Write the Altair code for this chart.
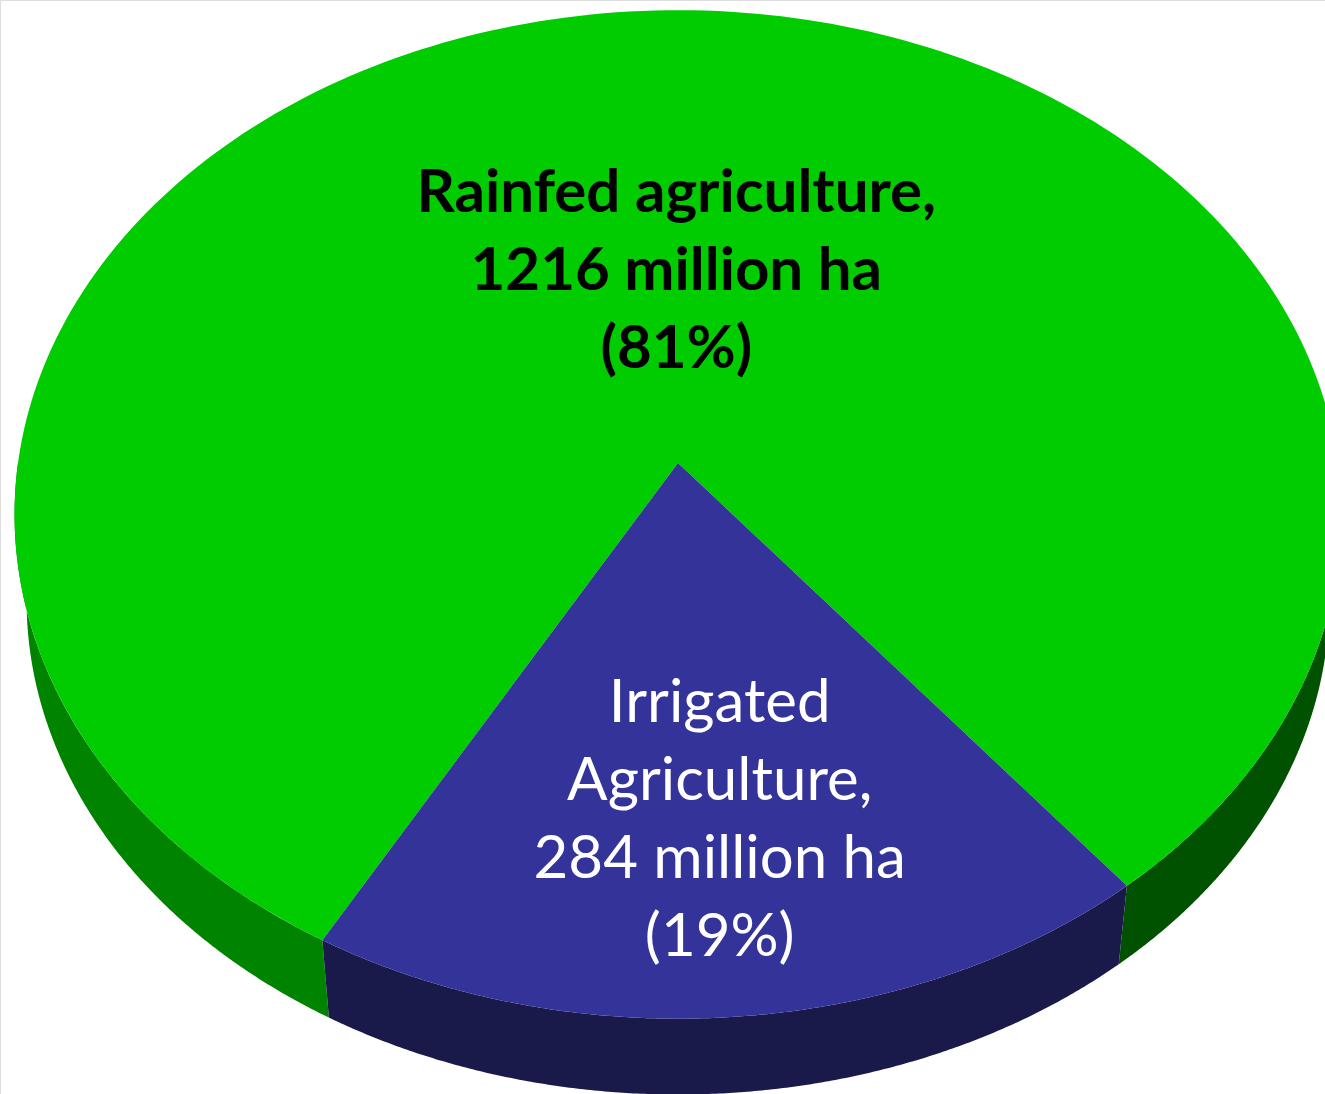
import altair as alt
import pandas as pd

# ---- data ----
categories = ["Rainfed agriculture", "Irrigated Agriculture"]
display_names = ["Rainfed agriculture", "Irrigated\nAgriculture"]
values = [1216, 284]
unit = "million ha"

total = sum(values)
labels = [
    f"{n},\n{v} {unit}\n({round(100 * v / total)}%)"
    for n, v in zip(display_names, values)
]
df = pd.DataFrame({
    "category": categories,
    "value": values,
    "order": list(range(len(categories))),
    "label": labels,
})

# ---- layout / style ----
W, H = 1325, 1094
CX, CY = 678, 463          # projected pie centre
A, B = 660, 499            # projected radii of top face
A_BOT, B_BOT = 648, 489    # projected radii of bottom face (farther away)
P = 0.102                  # perspective factor
DEPTH = 87                 # vertical offset of the bottom face centre
ROT = 209.4                # start angle of first slice (deg, clockwise from 12 o'clock)
N = 240                    # arc resolution
VIS0, VIS1 = 90.0, 270.0   # front half: where the side wall can be seen

top_colors = ["#00cc00", "#333399"]
side_domain = ["Rainfed agriculture|L", "Rainfed agriculture|R",
               "Irrigated Agriculture|L", "Irrigated Agriculture|R"]
side_colors = ["#008400", "#005200", "#1a1a4a", "#1a1a4a"]
label_colors = ["#000000", "#ffffff"]
label_weights = ["bold", "normal"]
label_r = {categories[0]: 0.40, categories[1]: 0.67}
label_dx = {categories[0]: 19, categories[1]: 3}
FONT_SIZE = 60
LINE_H = 78

xs = alt.Scale(domain=[0, W], nice=False, zero=False)
ys = alt.Scale(domain=[0, H], reverse=True, nice=False, zero=False)

base = (
    alt.Chart(df)
    .transform_joinaggregate(total="sum(value)")
    .transform_window(cum="sum(value)", sort=[alt.SortField("order")], frame=[None, 0])
    .transform_calculate(
        a0=f"{ROT} + 360*(datum.cum - datum.value)/datum.total",
        a1=f"{ROT} + 360*datum.cum/datum.total",
    )
)

# side wall: top arc forward, bottom arc backward
side = (
    base.transform_calculate(pieces="[0, 1]")
    .transform_flatten(["pieces"], as_=["k"])
    .transform_calculate(
        lo=f"max(datum.a0, {VIS0} + 360*datum.k)",
        hi=f"min(datum.a1, {VIS1} + 360*datum.k)",
    )
    .transform_filter("datum.lo < datum.hi")
    .transform_calculate(steps=f"sequence(0, {2 * N + 2})")
    .transform_flatten(["steps"], as_=["i"])
    .transform_calculate(
        j=f"datum.i <= {N} ? datum.i : {2 * N + 1} - datum.i",
        isbot=f"datum.i > {N}",
    )
    .transform_calculate(
        ang=f"(datum.lo + (datum.hi - datum.lo)*datum.j/{N})*PI/180",
        midang=f"((datum.lo + datum.hi)/2) % 360",
    )
    .transform_calculate(
        w=f"1 + {P}*cos(datum.ang)",
        face="datum.category + '|' + (datum.midang > 180 ? 'L' : 'R')",
    )
    .transform_calculate(
        px=f"{CX} + (datum.isbot ? {A_BOT} : {A})*sin(datum.ang)/datum.w",
        py=f"{CY} + (datum.isbot ? {DEPTH} : 0) - (datum.isbot ? {B_BOT} : {B})*cos(datum.ang)/datum.w",
    )
    .mark_line(filled=True, strokeWidth=0)
    .encode(
        x=alt.X("px:Q", scale=xs, axis=None),
        y=alt.Y("py:Q", scale=ys, axis=None),
        color=alt.Color("face:N", scale=alt.Scale(domain=side_domain, range=side_colors), legend=None),
        detail=["category:N", "k:Q"],
        order=alt.Order("i:Q"),
    )
)

# top faces
top = (
    base.transform_calculate(steps=f"sequence(-1, {N + 1})")
    .transform_flatten(["steps"], as_=["i"])
    .transform_calculate(
        ang=f"(datum.a0 + (datum.a1 - datum.a0)*max(datum.i, 0)/{N})*PI/180",
    )
    .transform_calculate(w=f"1 + {P}*cos(datum.ang)")
    .transform_calculate(
        px=f"datum.i < 0 ? {CX} : {CX} + {A}*sin(datum.ang)/datum.w",
        py=f"datum.i < 0 ? {CY} : {CY} - {B}*cos(datum.ang)/datum.w",
    )
    .mark_line(filled=True, strokeWidth=0)
    .encode(
        x=alt.X("px:Q", scale=xs, axis=None),
        y=alt.Y("py:Q", scale=ys, axis=None),
        color=alt.Color("category:N", scale=alt.Scale(domain=categories, range=top_colors), legend=None),
        detail="category:N",
        order=alt.Order("i:Q"),
    )
)

# labels
label_layers = []
for idx, cat in enumerate(categories):
    r = label_r[cat]
    n_lines = labels[idx].count("\n") + 1
    lay = (
        base.transform_filter(alt.datum.category == cat)
        .transform_calculate(mid="((datum.a0 + datum.a1)/2)*PI/180")
        .transform_calculate(w=f"1 + {P}*{r}*cos(datum.mid)")
        .transform_calculate(
            px=f"{CX} + {A}*{r}*sin(datum.mid)/datum.w",
            py=f"{CY} - {B}*{r}*cos(datum.mid)/datum.w",
        )
        .mark_text(
            font="Lato",
            fontSize=FONT_SIZE,
            fontWeight=label_weights[idx],
            color=label_colors[idx],
            lineBreak="\n",
            lineHeight=LINE_H,
            align="center",
            baseline="middle",
            dx=label_dx[cat],
            dy=-(n_lines - 1) / 2 * LINE_H,
        )
        .encode(
            x=alt.X("px:Q", scale=xs, axis=None),
            y=alt.Y("py:Q", scale=ys, axis=None),
            text="label:N",
        )
    )
    label_layers.append(lay)

chart = (
    alt.layer(side, top, *label_layers)
    .resolve_scale(color="independent")
    .properties(width=W, height=H, padding=0, autosize=alt.AutoSizeParams(type="none"))
    .configure_view(stroke=None)
    .configure(background="white")
)

chart.save("out.html", embed_options={"renderer": "svg", "actions": False})
